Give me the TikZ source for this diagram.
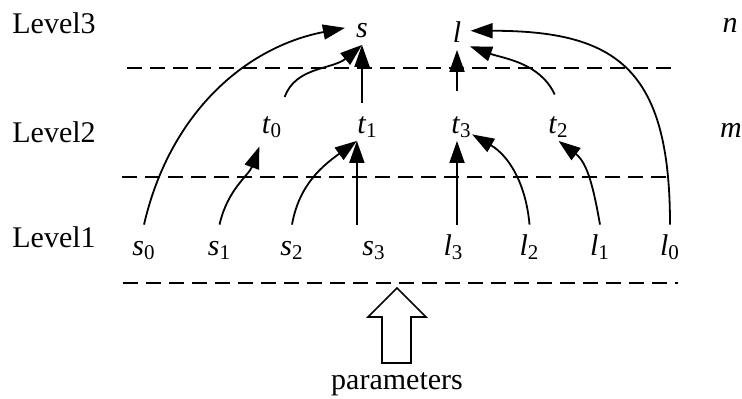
\documentclass[tikz,border=0pt]{standalone}
\usepackage{fontspec}
\setmainfont{Liberation Serif}
\usetikzlibrary{arrows.meta, calc}

\newcommand{\vsub}[2]{\textit{#1}\textsubscript{#2}}

\begin{document}
\begin{tikzpicture}[x=0.5pt, y=-0.5pt,
  every node/.style={font=\fontsize{15}{18}\selectfont, inner sep=0pt},
  var/.style={anchor=base, text height=15pt, text depth=3.75pt},
  level/.style={anchor=base west},
  link/.style={line width=0.9pt, -{Triangle[length=11pt, width=7.5pt]}},
  divider/.style={line width=0.9pt, dash pattern=on 7.5pt off 4pt}]

  \useasboundingbox (0,0) rectangle (742,398);

  % level labels
  \node[level] (lv3) at (12,33) {Level3};
  \node[level] (lv2) at (12,142) {Level2};
  \node[level] (lv1) at (12,247) {Level1};
  \node[var] (n) at (730,32) {\textit{n}};
  \node[var] (m) at (731,137) {\textit{m}};

  % dividers
  \draw[divider] (127,68) -- (675,68);
  \draw[divider] (122,177) -- (673,177);
  \draw[divider] (123,283) -- (678,283);

  % level 3
  \node[var] (s) at (362,37) {\textit{s}};
  \node[var] (l) at (457,42) {\textit{l}};

  % level 2
  \node[var] (t0) at (272,133) {\vsub{t}{0}};
  \node[var] (t1) at (367.5,133) {\vsub{t}{1}};
  \node[var] (t3) at (461.5,133) {\vsub{t}{3}};
  \node[var] (t2) at (558.5,133) {\vsub{t}{2}};

  % level 1
  \node[var] (s0) at (144,255) {\vsub{s}{0}};
  \node[var] (s1) at (219.5,255) {\vsub{s}{1}};
  \node[var] (s2) at (292,255) {\vsub{s}{2}};
  \node[var] (s3) at (374,255) {\vsub{s}{3}};
  \node[var] (l3) at (453.5,255) {\vsub{l}{3}};
  \node[var] (l2) at (529.5,255) {\vsub{l}{2}};
  \node[var] (l1) at (600,255) {\vsub{l}{1}};
  \node[var] (l0) at (670,255) {\vsub{l}{0}};

  % s side
  \draw[link, shorten >=5.5pt] (s0.north) to[out=77, in=191] (s.west);
  \draw[link, shorten <=3pt] (t0.north east) to[out=70, in=220] (s.south);
  \draw[link] (s.south |- t1.north) -- (s.south);
  \draw[link, shorten >=3pt] (s1.north) to[out=77, in=250] (t0.south west);
  \draw[link] (s2.north) to[out=80, in=216] (t1.south west);
  \draw[link] (t1.south west |- s3.north) -- (t1.south west);

  % l side
  \draw[link] (l.south |- l3.north) -- (l.south |- t3.south);
  \draw[link, shorten <=6pt] (l.south |- t3.north) -- (l.south);
  \draw[link] (l2.north) to[out=95, in=-30] (t3.-50);
  \draw[link] (l1.north) to[out=100, in=-37] (t2.south);
  \draw[link, shorten <=4.5pt, shorten >=4.5pt] (t2.north) to[out=115, in=-20] (l.-70);
  \draw[link, shorten >=4.5pt] (l0.north) to[out=90, in=0, looseness=1.4] (l.east);

  % parameters
  \node[anchor=base] (params) at (397,389) {parameters};
  \draw[line width=0.8pt] (397,288) -- (426,317) -- (411,317) -- (411,363)
    -- (382,363) -- (382,317) -- (368,317) -- cycle;
\end{tikzpicture}
\end{document}
